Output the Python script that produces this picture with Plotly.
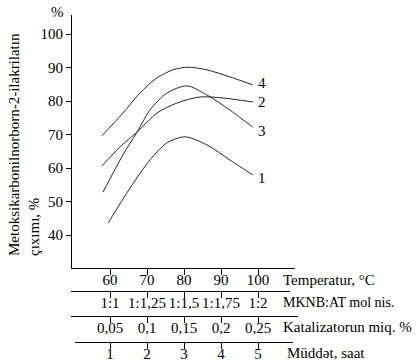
import plotly.graph_objects as go

# ---------------- data ----------------
temp_1 = [59.5, 65.4, 70.8, 75.4, 80.3, 86.2, 92.4, 98.6]
yield_1 = [43.6, 54.0, 62.4, 67.5, 69.3, 66.9, 62.4, 57.9]

temp_2 = [57.8, 62.7, 67.3, 72.7, 78.1, 84.3, 90.5, 98.6]
yield_2 = [60.6, 66.3, 70.7, 76.4, 79.4, 81.2, 80.9, 79.7]

temp_3 = [58.1, 63.5, 67.3, 70.8, 75.4, 80.8, 86.2, 92.4, 98.6]
yield_3 = [52.8, 63.9, 70.7, 77.3, 82.4, 84.5, 81.8, 77.3, 72.2]

temp_4 = [57.8, 63.5, 68.1, 72.7, 77.0, 81.1, 86.2, 92.4, 98.6]
yield_4 = [69.6, 76.4, 82.4, 86.9, 89.3, 90.1, 89.3, 87.2, 84.8]

curve_names = ["1", "2", "3", "4"]

y_ticks = [40, 50, 60, 70, 80, 90, 100]
temp_ticks = [60, 70, 80, 90, 100]
ratio_labels = ["1:1", "1:1,25", "1:1,5", "1:1,75", "1:2"]
catalyst_labels = ["0,05", "0,1", "0,15", "0,2", "0,25"]
time_labels = ["1", "2", "3", "4", "5"]

row_titles = ["Temperatur, °C", "MKNB:AT mol nis.", "Katalizatorun miq. %", "Müddət, saat"]
y_title = "Metoksikarbonilnorborn-2-ilakrilatın<br>çıxımı, %"

# ---------------- layout helpers ----------------
W, H = 417, 363
FONT = "Liberation Serif"
LINE = "#262626"


def px_x(p):
    return p / W


def px_y(p):
    return 1 - p / H


def t_of_px(p):
    # 60 °C sits at 110 px, 3.7 px per degree
    return 60 + (p - 110) / 3.7


def v_of_px(p):
    # 100 % sits at 34 px, 3.35 px per percent
    return 100 - (p - 34) / 3.35


fig = go.Figure()

series = [(temp_1, yield_1), (temp_2, yield_2), (temp_3, yield_3), (temp_4, yield_4)]
for name, (tx, vy) in zip(curve_names, series):
    fig.add_trace(go.Scatter(
        x=tx, y=vy, mode="lines", name=name,
        line=dict(color=LINE, width=1.0, shape="spline", smoothing=0.8),
        showlegend=False, hoverinfo="skip"))

label_yshift = {"1": -3, "2": 0, "3": -4, "4": 2}
for name, (tx, vy) in zip(curve_names, series):
    fig.add_annotation(x=tx[-1], y=vy[-1], xref="x", yref="y", text=name,
                       showarrow=False, xanchor="left", yanchor="middle",
                       xshift=3, yshift=label_yshift[name],
                       font=dict(family=FONT, size=15, color="black"))

# extra rows of the x scale
rows = [
    ("x2", ratio_labels, 291, (71, 290)),
    ("x3", catalyst_labels, 316, (71, 298)),
    ("x4", time_labels, 342, (75, 293)),
]
for ax_id, labels, _, _ in rows:
    fig.add_trace(go.Scatter(x=temp_ticks, y=[None] * len(temp_ticks), xaxis=ax_id, yaxis="y",
                             mode="markers", showlegend=False, hoverinfo="skip"))

common_x = dict(showline=True, linecolor="black", linewidth=1, ticks="outside", ticklen=6,
                tickcolor="black", tickwidth=1, showgrid=False, zeroline=False,
                ticklabelstandoff=-8,
                tickfont=dict(family=FONT, size=15, color="black"), fixedrange=True)

layout = dict(
    width=W, height=H, margin=dict(l=0, r=0, t=0, b=0),
    font=dict(family=FONT, size=15, color="black"),
    paper_bgcolor="white", plot_bgcolor="rgba(0,0,0,0)",
    showlegend=False,
    xaxis=dict(domain=[px_x(72), px_x(295)], range=[t_of_px(72), t_of_px(295)],
               tickvals=temp_ticks, ticktext=[str(t) for t in temp_ticks],
               anchor="y", **common_x),
    yaxis=dict(domain=[px_y(268), px_y(15)], range=[v_of_px(268), v_of_px(15)],
               tickvals=y_ticks, ticktext=[str(v) for v in y_ticks],
               showline=True, linecolor="black", linewidth=1, ticks="outside", ticklen=5,
               tickcolor="black", showgrid=False, zeroline=False,
               tickfont=dict(family=FONT, size=15, color="black"), fixedrange=True),
)
for i, (ax_id, labels, line_y, (a, b)) in enumerate(rows):
    key = "xaxis" + ax_id[1:]
    layout[key] = dict(domain=[px_x(a), px_x(b)], range=[t_of_px(a), t_of_px(b)],
                       tickvals=temp_ticks, ticktext=labels,
                       anchor="free", position=px_y(line_y), **common_x)
fig.update_layout(**layout)

# row titles
row_pos = [(281, 280, 15), (281, 302, 14), (281, 327, 15), (285, 353, 15)]
for txt, (x0, y0, fs) in zip(row_titles, row_pos):
    fig.add_annotation(x=px_x(x0), y=px_y(y0), xref="paper", yref="paper", text=txt,
                       showarrow=False, xanchor="left", yanchor="middle",
                       font=dict(family=FONT, size=fs, color="black"))

# y title and % mark
fig.add_annotation(x=px_x(24), y=px_y(145), xref="paper", yref="paper", text=y_title,
                   textangle=-90, showarrow=False, align="left",
                   xanchor="center", yanchor="middle",
                   font=dict(family=FONT, size=15, color="black"))
fig.add_annotation(x=px_x(57), y=px_y(12), xref="paper", yref="paper", text="%",
                   showarrow=False, xanchor="center", yanchor="middle",
                   font=dict(family=FONT, size=15, color="black"))

fig.write_html("out.html", config={"displayModeBar": False},
               post_script="document.body.style.margin='0';document.body.style.overflow='hidden';")
